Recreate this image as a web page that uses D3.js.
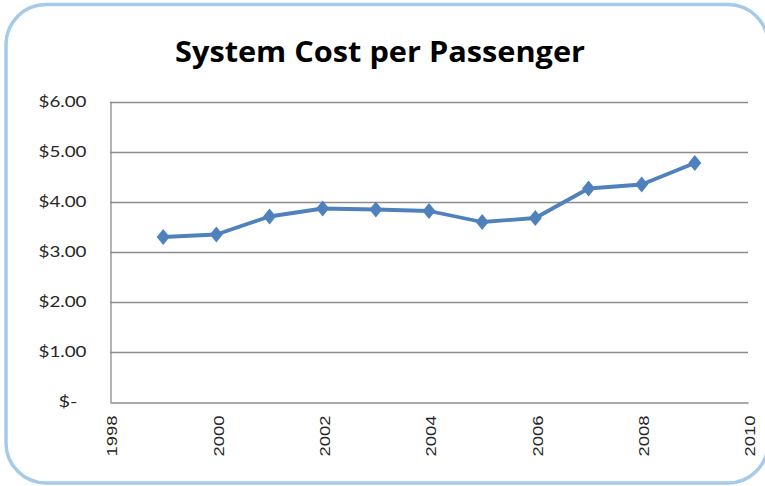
<!DOCTYPE html>
<html>
<head>
<meta charset="utf-8">
<script src="https://cdn.jsdelivr.net/npm/d3@7"></script>
<style>
  html, body { margin: 0; padding: 0; background: #fff; }
</style>
</head>
<body>
<div id="chart"></div>
<script>
// data
const years = [1999, 2000, 2001, 2002, 2003, 2004, 2005, 2006, 2007, 2008, 2009];
const costs = [3.30, 3.35, 3.71, 3.87, 3.85, 3.82, 3.60, 3.68, 4.27, 4.35, 4.78];
const yTicks = [0, 1, 2, 3, 4, 5, 6];
const xTicks = [1998, 2000, 2002, 2004, 2006, 2008, 2010];
const title = 'System Cost per Passenger';

const width = 765;
const height = 486;
const margin = { top: 102, right: 17, bottom: 84, left: 110 };

const svg = d3.select('#chart').append('svg')
  .attr('width', width)
  .attr('height', height);

// rounded frame (runs a bit past the right edge, like the picture)
svg.append('rect')
  .attr('x', 6).attr('y', 4.5)
  .attr('width', 762).attr('height', 478.5)
  .attr('rx', 40).attr('ry', 40)
  .attr('fill', '#fff')
  .attr('stroke', '#a6cbe9')
  .attr('stroke-width', 3.5);

svg.append('text')
  .attr('x', 175).attr('y', 62)
  .attr('font-family', '"Open Sans", Lato, sans-serif')
  .attr('font-weight', 'bold')
  .attr('font-size', 28)
  .attr('textLength', 410)
  .attr('lengthAdjust', 'spacingAndGlyphs')
  .attr('fill', '#000')
  .text(title);

const x = d3.scaleLinear()
  .domain([1998, 2010])
  .range([margin.left, width - margin.right]);

const y = d3.scaleLinear()
  .domain([0, 6])
  .range([height - margin.bottom, margin.top]);

// gridlines
svg.append('g')
  .selectAll('line').data(yTicks.slice(1))
  .enter()
  .append('line')
  .attr('x1', x(1998)).attr('x2', x(2010))
  .attr('y1', d => Math.round(y(d)) + 0.5)
  .attr('y2', d => Math.round(y(d)) + 0.5)
  .attr('stroke', '#8c8c8c')
  .attr('stroke-width', 1.3);

// y axis
const yAxis = svg.append('g')
  .attr('transform', `translate(${x(1998) + 0.5},0)`)
  .call(d3.axisLeft(y).tickValues(yTicks).tickSize(0).tickPadding(24)
    .tickFormat(d => d === 0 ? '$-' : d3.format('$.2f')(d)));
yAxis.select('.domain').attr('stroke', '#8c8c8c').attr('stroke-width', 1.3);
yAxis.selectAll('text')
  .attr('font-family', 'Lato, "Open Sans", sans-serif')
  .attr('font-size', 15)
  .attr('fill', '#262626')
  .attr('textLength', d => d === 0 ? 19 : 48)
  .attr('lengthAdjust', 'spacingAndGlyphs')
  .attr('dx', d => d === 0 ? -9 : 0);

// x axis, labels turned on their side
const xAxis = svg.append('g')
  .attr('transform', `translate(0,${Math.round(y(0)) + 0.5})`)
  .call(d3.axisBottom(x).tickValues(xTicks).tickSize(0).tickFormat(d3.format('d')));
xAxis.select('.domain').attr('stroke', '#8c8c8c').attr('stroke-width', 1.3);
xAxis.selectAll('text')
  .attr('font-family', '"Liberation Sans", Arial, sans-serif')
  .attr('font-size', 15)
  .attr('fill', '#262626')
  .attr('transform', 'rotate(-90)')
  .attr('text-anchor', 'end')
  .attr('textLength', 41)
  .attr('lengthAdjust', 'spacingAndGlyphs')
  .attr('x', -13)
  .attr('y', 1.5)
  .attr('dy', '0.35em');

const points = years.map((yr, i) => [yr, costs[i]]);

svg.append('path')
  .datum(points)
  .attr('fill', 'none')
  .attr('stroke', '#4f81bd')
  .attr('stroke-width', 3.8)
  .attr('stroke-linejoin', 'round')
  .attr('d', d3.line().x(d => x(d[0])).y(d => y(d[1])));

svg.append('g')
  .selectAll('path').data(points)
  .enter()
  .append('path')
  .attr('transform', d => `translate(${x(d[0])},${y(d[1])})`)
  .attr('d', 'M0,-8 L6.5,0 L0,8 L-6.5,0 Z')
  .attr('fill', '#4f81bd');
</script>
</body>
</html>
